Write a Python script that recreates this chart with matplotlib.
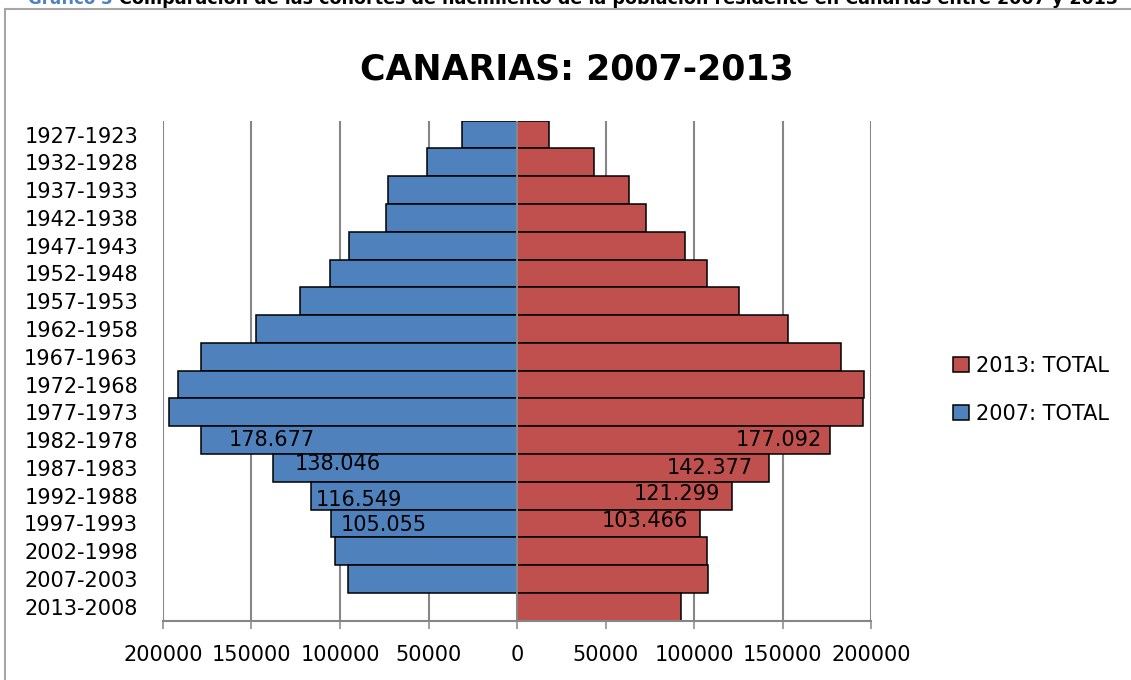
import matplotlib
matplotlib.use("agg")

import matplotlib.pyplot as plt
import numpy as np
from matplotlib.patches import Patch, Rectangle


# Birth cohorts, oldest at the top.
cohorts = ["1927-1923", "1932-1928", "1937-1933", "1942-1938", "1947-1943",
           "1952-1948", "1957-1953", "1962-1958", "1967-1963", "1972-1968",
           "1977-1973", "1982-1978", "1987-1983", "1992-1988", "1997-1993",
           "2002-1998", "2007-2003", "2013-2008"]

# Resident population per cohort (2007 had nobody born 2008-2013).
total_2007 = [31100, 50600, 72800, 74100, 95000, 105800, 122600, 147600,
              178700, 191700, 196600, 178677, 138046, 116549, 105055,
              102600, 95600, np.nan]
total_2013 = [18100, 43300, 63500, 72600, 94800, 107500, 125700, 152900,
              183200, 196000, 195300, 177092, 142377, 121299, 103466,
              107100, 108000, 92800]

# Cohorts that carry a data label.
labelled = ["1982-1978", "1987-1983", "1992-1988", "1997-1993"]

title = "CANARIAS: 2007-2013"
caption_num = "Gráfico 3"
caption = ("Comparación de las cohortes de nacimiento de la población "
           "residente en Canarias entre 2007 y 2013")

blue = "#4F81BD"
red = "#C0504D"
grid_grey = "#868686"

W, H = 1131, 680
fig = plt.figure(figsize=(W / 100, H / 100), dpi=100)
ax = fig.add_axes([163 / W, 1 - 620.7 / H, (871 - 163) / W, 500 / H])

pos = np.arange(len(cohorts))
ax.barh(pos, -np.array(total_2007, dtype=float), height=1.0, color=blue,
        edgecolor="black", linewidth=1.1, zorder=3)
ax.barh(pos, total_2013, height=1.0, color=red,
        edgecolor="black", linewidth=1.1, zorder=3)

ax.set_xlim(-200000, 200000)
ax.set_ylim(len(cohorts) - 0.5, -0.5)

xt = np.arange(-200000, 200001, 50000)
ax.set_xticks(xt)
ax.set_xticklabels([str(abs(v)) for v in xt])
ax.set_yticks(pos)
ax.set_yticklabels(cohorts)

ax.tick_params(axis="x", length=5.8, width=1.1, color=grid_grey, pad=12,
               labelsize=15)
ax.tick_params(axis="y", length=0, pad=18, labelsize=15)
for lab in ax.get_yticklabels():
    lab.set_horizontalalignment("right")

for s in ["top", "right", "left"]:
    ax.spines[s].set_visible(False)
ax.spines["bottom"].set_color(grid_grey)
ax.spines["bottom"].set_linewidth(1.5)
ax.spines["bottom"].set_zorder(4)

for v in xt:
    if v != 0:
        ax.axvline(v, color=grid_grey, linewidth=1.5, zorder=1)
ax.axvline(0, color=grid_grey, linewidth=1.5, zorder=4)

# data labels (offsets in pixels, nudged like the original)
left_off = [(28, 0), (22, 3.5), (5, -4), (10, -1.5)]
right_off = [(-9, 0), (-16, 0), (-12, 2), (-12, 2)]
for name, lo, ro in zip(labelled, left_off, right_off):
    i = cohorts.index(name)
    v07 = total_2007[i]
    v13 = total_2013[i]
    ax.annotate(f"{int(v07):,}".replace(",", "."), xy=(-v07, i),
                xytext=(lo[0] * 0.72, lo[1] * 0.72), textcoords="offset points",
                ha="left", va="center", fontsize=15, zorder=5)
    ax.annotate(f"{int(v13):,}".replace(",", "."), xy=(v13, i),
                xytext=(ro[0] * 0.72, ro[1] * 0.72), textcoords="offset points",
                ha="right", va="center", fontsize=15, zorder=5)

handles = [Patch(facecolor=red, edgecolor="black", linewidth=1.1),
           Patch(facecolor=blue, edgecolor="black", linewidth=1.1)]
fig.legend(handles, ["2013: TOTAL", "2007: TOTAL"], loc="center left",
           bbox_to_anchor=(953 / W, 1 - 389.6 / H), frameon=False,
           fontsize=15, handlelength=0.77, handleheight=0.77,
           handletextpad=0.32, labelspacing=1.35, borderpad=0,
           borderaxespad=0)

fig.text(577 / W, 1 - 79 / H, title, ha="center", va="baseline",
         fontsize=25, fontweight="bold")

# chart frame and the clipped caption above it
fig.patches.append(Rectangle((5 / W, -0.1), 1.2, 1.1 - 9.5 / H,
                             transform=fig.transFigure, fill=False,
                             edgecolor="#a6a6a6", linewidth=1.5))
fig.text(28 / W, 1 - 4 / H, caption_num, ha="left", va="baseline",
         fontsize=12, fontweight="bold", color="#4F81BD")
fig.text(119 / W, 1 - 4 / H, caption, ha="left", va="baseline",
         fontsize=12.6, fontweight="bold", color="black")

fig.savefig("out.png", dpi=100)
